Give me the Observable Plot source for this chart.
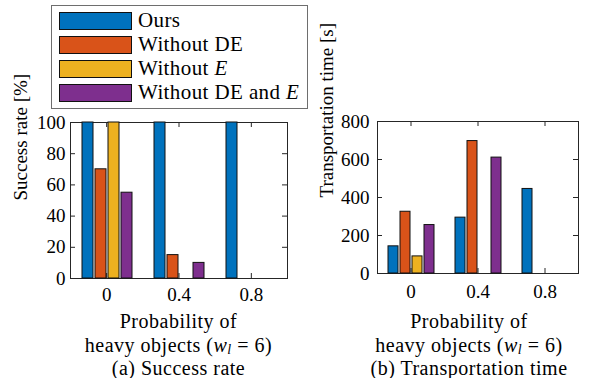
<!DOCTYPE html>
<html><head><meta charset="utf-8">
<script src="https://cdn.jsdelivr.net/npm/d3@7"></script>
<script src="https://cdn.jsdelivr.net/npm/@observablehq/plot@0.6"></script>
<style>
body{margin:0;background:#fff;}
#root{position:relative;width:593px;height:378px;overflow:hidden;font-family:'Liberation Serif',serif;color:#000;background:#fff;}
.layer{position:absolute;}
.layer svg{background:transparent;overflow:visible;}
.cap{position:absolute;text-align:center;font-size:20px;letter-spacing:0.5px;line-height:22px;height:22px;white-space:nowrap;font-family:'Liberation Serif',serif;}
.legend{position:absolute;left:51px;top:5px;width:255px;height:102px;border:1px solid #6e6e6e;background:#fff;z-index:5;}
.sw{position:absolute;left:7px;width:71px;height:16px;border:1px solid #111;}
.lt{position:absolute;left:86px;font-size:21px;letter-spacing:0.4px;line-height:24px;white-space:nowrap;font-family:'Liberation Serif',serif;}
</style></head><body><div id="root"></div>
<script>
// ---- data ----
const probabilities = [0, 0.4, 0.8];
const probabilityLabels = ["0", "0.4", "0.8"];
const methods = ["Ours", "Without DE", "Without E", "Without DE and E"];
const methodColors = ["#0072BD", "#D95319", "#EDB120", "#7E2F8E"];
const successOurs = [100, 100, 100];
const successNoDE = [70, 15, 0];
const successNoE = [100, 0, 0];
const successNoDEE = [55, 10, 0];
const timeOurs = [143, 294, 445];
const timeNoDE = [325, 697, 0];
const timeNoE = [90, 0, 0];
const timeNoDEE = [255, 610, 0];
const successTicks = [0, 20, 40, 60, 80, 100];
const timeTicks = [0, 200, 400, 600, 800];

function table(series) {
  const rows = [];
  series.forEach((vals, k) => vals.forEach((v, i) => rows.push({p: probabilities[i], method: methods[k], value: v})));
  return rows;
}
const successRows = table([successOurs, successNoDE, successNoE, successNoDEE]);
const timeRows = table([timeOurs, timeNoDE, timeNoE, timeNoDEE]);

const root = document.getElementById("root");
const FONT = "'Liberation Serif', serif";

function chart(cfg) {
  const {left, top, width, height, mt, mr, mb, ml, yDomain, yTicks, yLabel, xPad, yPad, labelDx, rows} = cfg;
  const fw = width - ml - mr, fh = height - mt - mb;
  const common = {width, height, marginTop: mt, marginRight: mr, marginBottom: mb, marginLeft: ml,
    style: {background: "transparent", overflow: "visible", fontFamily: FONT, fontSize: "19px", color: "#000"}};
  const axes = Plot.plot({
    ...common,
    x: {domain: [-0.2, 1.0]},
    y: {domain: yDomain},
    marks: [
      Plot.frame({stroke: "#262626"}),
      Plot.tickX(probabilities, {insetTop: fh - 5, stroke: "#262626"}),
      Plot.tickX(probabilities, {insetBottom: fh - 5, stroke: "#262626"}),
      Plot.tickY(yTicks, {insetRight: fw - 5, stroke: "#262626"}),
      Plot.tickY(yTicks, {insetLeft: fw - 5, stroke: "#262626"}),
      Plot.axisX({ticks: probabilities, tickSize: 0, tickPadding: xPad, label: null, fontSize: 19, fontFamily: FONT,
        tickFormat: d => probabilityLabels[probabilities.indexOf(d)]}),
      Plot.axisY({ticks: yTicks, tickSize: 0, tickPadding: yPad, label: null, fontSize: 19, fontFamily: FONT}),
      Plot.text([yLabel], {text: d => d, frameAnchor: "left", rotate: -90, dx: labelDx, fontSize: 19, fontFamily: FONT, fill: "#000"})
    ]
  });
  const bars = Plot.plot({
    ...common,
    fx: {domain: probabilities, padding: 0, axis: null},
    x: {domain: methods, paddingInner: 0.17, paddingOuter: 0.8, axis: null},
    y: {domain: yDomain, axis: null},
    color: {domain: methods, range: methodColors},
    marks: [
      Plot.barY(rows, {fx: "p", x: "method", y: "value", fill: "method", stroke: "#111", strokeWidth: 1})
    ]
  });
  for (const el of [axes, bars]) {
    const d = document.createElement("div");
    d.className = "layer";
    d.style.left = left + "px"; d.style.top = top + "px";
    d.appendChild(el);
    root.appendChild(d);
  }
}

chart({left: 0, top: 100, width: 300, height: 210, mt: 22, mr: 13, mb: 32, ml: 70,
  yDomain: [0, 100], yTicks: successTicks, yLabel: "Success rate [%]", xPad: 9, yPad: 5, labelDx: -50, rows: successRows});
chart({left: 300, top: 100, width: 293, height: 210, mt: 21, mr: 15, mb: 37, ml: 77,
  yDomain: [0, 800], yTicks: timeTicks, yLabel: "Transportation time [s]", xPad: 11, yPad: 8, labelDx: -51, rows: timeRows});

// captions (three separate lines)
const capLine1 = "Probability of";
const capLine2 = "heavy objects (<i>w</i><sub style='font-size:14px;vertical-align:-2px;line-height:0'><i>l</i></sub> = 6)";
const capTops = [310, 333.5, 356.5];
function caption(cx, sub) {
  [capLine1, capLine2, sub].forEach((html, i) => {
    const d = document.createElement("div");
    d.className = "cap";
    d.style.left = (cx - 130) + "px"; d.style.width = "260px"; d.style.top = capTops[i] + "px";
    d.innerHTML = html;
    root.appendChild(d);
  });
}
caption(178.5, "(a) Success rate");
caption(469, "(b) Transportation time");

// legend
const lg = document.createElement("div");
lg.className = "legend";
methods.forEach((m, i) => {
  const sw = document.createElement("div");
  sw.className = "sw";
  sw.style.top = (6 + 24 * i) + "px";
  sw.style.background = methodColors[i];
  lg.appendChild(sw);
  const t = document.createElement("div");
  t.className = "lt";
  t.style.top = (1.5 + 24 * i) + "px";
  t.innerHTML = m.split(" ").map(w => w === "E" ? "<i>E</i>" : w).join(" ");
  lg.appendChild(t);
});
root.appendChild(lg);
</script>
</body></html>
